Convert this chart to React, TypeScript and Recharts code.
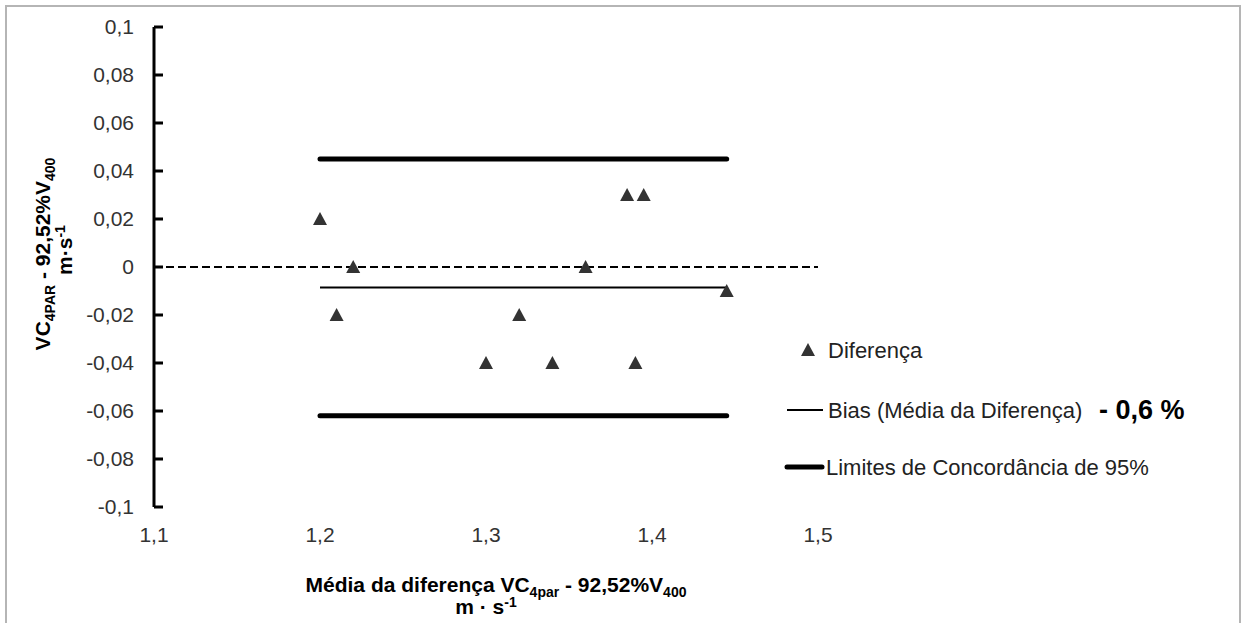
import React from "react";
import { ScatterChart, Scatter, XAxis, YAxis, ReferenceLine } from "recharts";

// Bland-Altman: VC4par vs 92,52%V400
const diffX = [1.2, 1.21, 1.22, 1.3, 1.32, 1.34, 1.36, 1.385, 1.395, 1.39, 1.445];
const diffY = [0.02, -0.02, 0, -0.04, -0.02, -0.04, 0, 0.03, 0.03, -0.04, -0.01];
const lineStart = 1.2;
const lineEnd = 1.445;
const upperLimit = 0.045;
const lowerLimit = -0.062;
const bias = -0.0085;
const xTicks = [1.1, 1.2, 1.3, 1.4, 1.5];
const yTicks = [-0.1, -0.08, -0.06, -0.04, -0.02, 0, 0.02, 0.04, 0.06, 0.08, 0.1];
const biasLabel = "- 0,6 %";

const points = diffX.map((x, i) => ({ x, y: diffY[i] }));

const FONT = '"Liberation Sans", Arial, sans-serif';
const comma = (v: number) => String(v).replace(".", ",");

const Triangle = (props: any) => {
  const { cx, cy } = props;
  if (cx == null || cy == null) return null;
  return (
    <polygon
      points={`${cx},${cy - 7} ${cx + 7},${cy + 6} ${cx - 7},${cy + 6}`}
      fill="#333"
    />
  );
};

// y tick label plus an inward tick mark
const YTick = (props: any) => {
  const { x, y, payload } = props;
  return (
    <g>
      <rect x={x + 20} y={y - 1.5} width={9} height={3} fill="#000" />
      <text x={x} y={y} dy="0.35em" textAnchor="end" fontSize={21} fill="#333" fontFamily={FONT}>
        {comma(payload.value)}
      </text>
    </g>
  );
};

const XTitle = (props: any) => {
  const { viewBox } = props;
  const cx = viewBox.x + viewBox.width / 2 + 10;
  return (
    <text textAnchor="middle" fontSize={21} fontWeight="bold" fill="#000" fontFamily={FONT}>
      <tspan x={cx} y={592}>
        Média da diferença VC
        <tspan fontSize={14} dy={5}>4par</tspan>
        <tspan dy={-5}> - 92,52%V</tspan>
        <tspan fontSize={14} dy={5}>400</tspan>
      </tspan>
      <tspan x={cx - 10} y={614}>
        m · s
        <tspan fontSize={14} dy={-7}>-1</tspan>
      </tspan>
    </text>
  );
};

const YTitle = () => {
  const cy = 254;
  return (
    <g fontFamily={FONT} fontWeight="bold" fill="#000" fontSize={21}>
      <text transform={`translate(50, ${cy}) rotate(-90)`} textAnchor="middle">
        VC
        <tspan fontSize={14} dy={5}>4PAR</tspan>
        <tspan dy={-5}> - 92,52%V</tspan>
        <tspan fontSize={14} dy={5}>400</tspan>
      </text>
      <text transform={`translate(72, ${cy - 4}) rotate(-90)`} textAnchor="middle">
        m·s
        <tspan fontSize={14} dy={-7}>-1</tspan>
      </text>
    </g>
  );
};

const LegendBox = () => (
  <svg width={440} height={150} style={{ fontFamily: FONT, display: "block" }}>
    <polygon points="28,13 35,26 21,26" fill="#333" />
    <text x={48} y={20} dy="0.35em" fontSize={22} fill="#222">Diferença</text>
    <line x1={7} x2={43} y1={80} y2={80} stroke="#000" strokeWidth={2} />
    <text x={48} y={80} dy="0.35em" fontSize={22} fill="#222">Bias (Média da Diferença)</text>
    <text x={319} y={80} dy="0.35em" fontSize={27} fontWeight="bold" fill="#000">
      {biasLabel}
    </text>
    <line x1={7} x2={42} y1={137} y2={137} stroke="#000" strokeWidth={5} strokeLinecap="round" />
    <text x={46} y={137} dy="0.35em" fontSize={22} fill="#222">Limites de Concordância de 95%</text>
  </svg>
);

export default function App() {
  return (
    <div style={{ position: "absolute", left: 0, top: 0, width: 1246, height: 623, overflow: "hidden", background: "#fff" }}>
      <div
        style={{
          position: "absolute",
          left: 5,
          top: 5,
          width: 1232,
          height: 640,
          border: "2px solid #b5b5b5",
        }}
      />
      <div style={{ position: "absolute", left: 0, top: 0 }}>
        <ScatterChart width={1246} height={623} margin={{ top: 27, right: 428, bottom: 0, left: 0 }}>
          <XAxis
            type="number"
            dataKey="x"
            domain={[1.1, 1.5]}
            ticks={xTicks}
            interval={0}
            axisLine={false}
            tickLine={false}
            tickSize={0}
            tickMargin={20}
            height={116}
            tickFormatter={comma}
            tick={{ fontSize: 21, fill: "#333", fontFamily: FONT }}
            label={{ content: XTitle }}
          />
          <YAxis
            type="number"
            dataKey="y"
            domain={[-0.1, 0.1]}
            ticks={yTicks}
            interval={0}
            width={154}
            axisLine={{ stroke: "#000", strokeWidth: 3 }}
            tickLine={false}
            tickSize={0}
            tickMargin={20}
            tick={YTick}
            label={{ content: YTitle }}
          />
          <ReferenceLine
            segment={[{ x: 1.1, y: 0 }, { x: 1.5, y: 0 }]}
            stroke="#000"
            strokeWidth={2}
            strokeDasharray="8 4"
          />
          <ReferenceLine
            segment={[{ x: lineStart, y: upperLimit }, { x: lineEnd, y: upperLimit }]}
            stroke="#000"
            strokeWidth={5}
            strokeLinecap="round"
          />
          <ReferenceLine
            segment={[{ x: lineStart, y: lowerLimit }, { x: lineEnd, y: lowerLimit }]}
            stroke="#000"
            strokeWidth={5}
            strokeLinecap="round"
          />
          <ReferenceLine
            segment={[{ x: lineStart, y: bias }, { x: lineEnd, y: bias }]}
            stroke="#000"
            strokeWidth={2}
          />
          <Scatter name="Diferença" data={points} shape={Triangle} isAnimationActive={false} />
        </ScatterChart>
      </div>
      <div style={{ position: "absolute", left: 780, top: 330 }}>
        <LegendBox />
      </div>
    </div>
  );
}
